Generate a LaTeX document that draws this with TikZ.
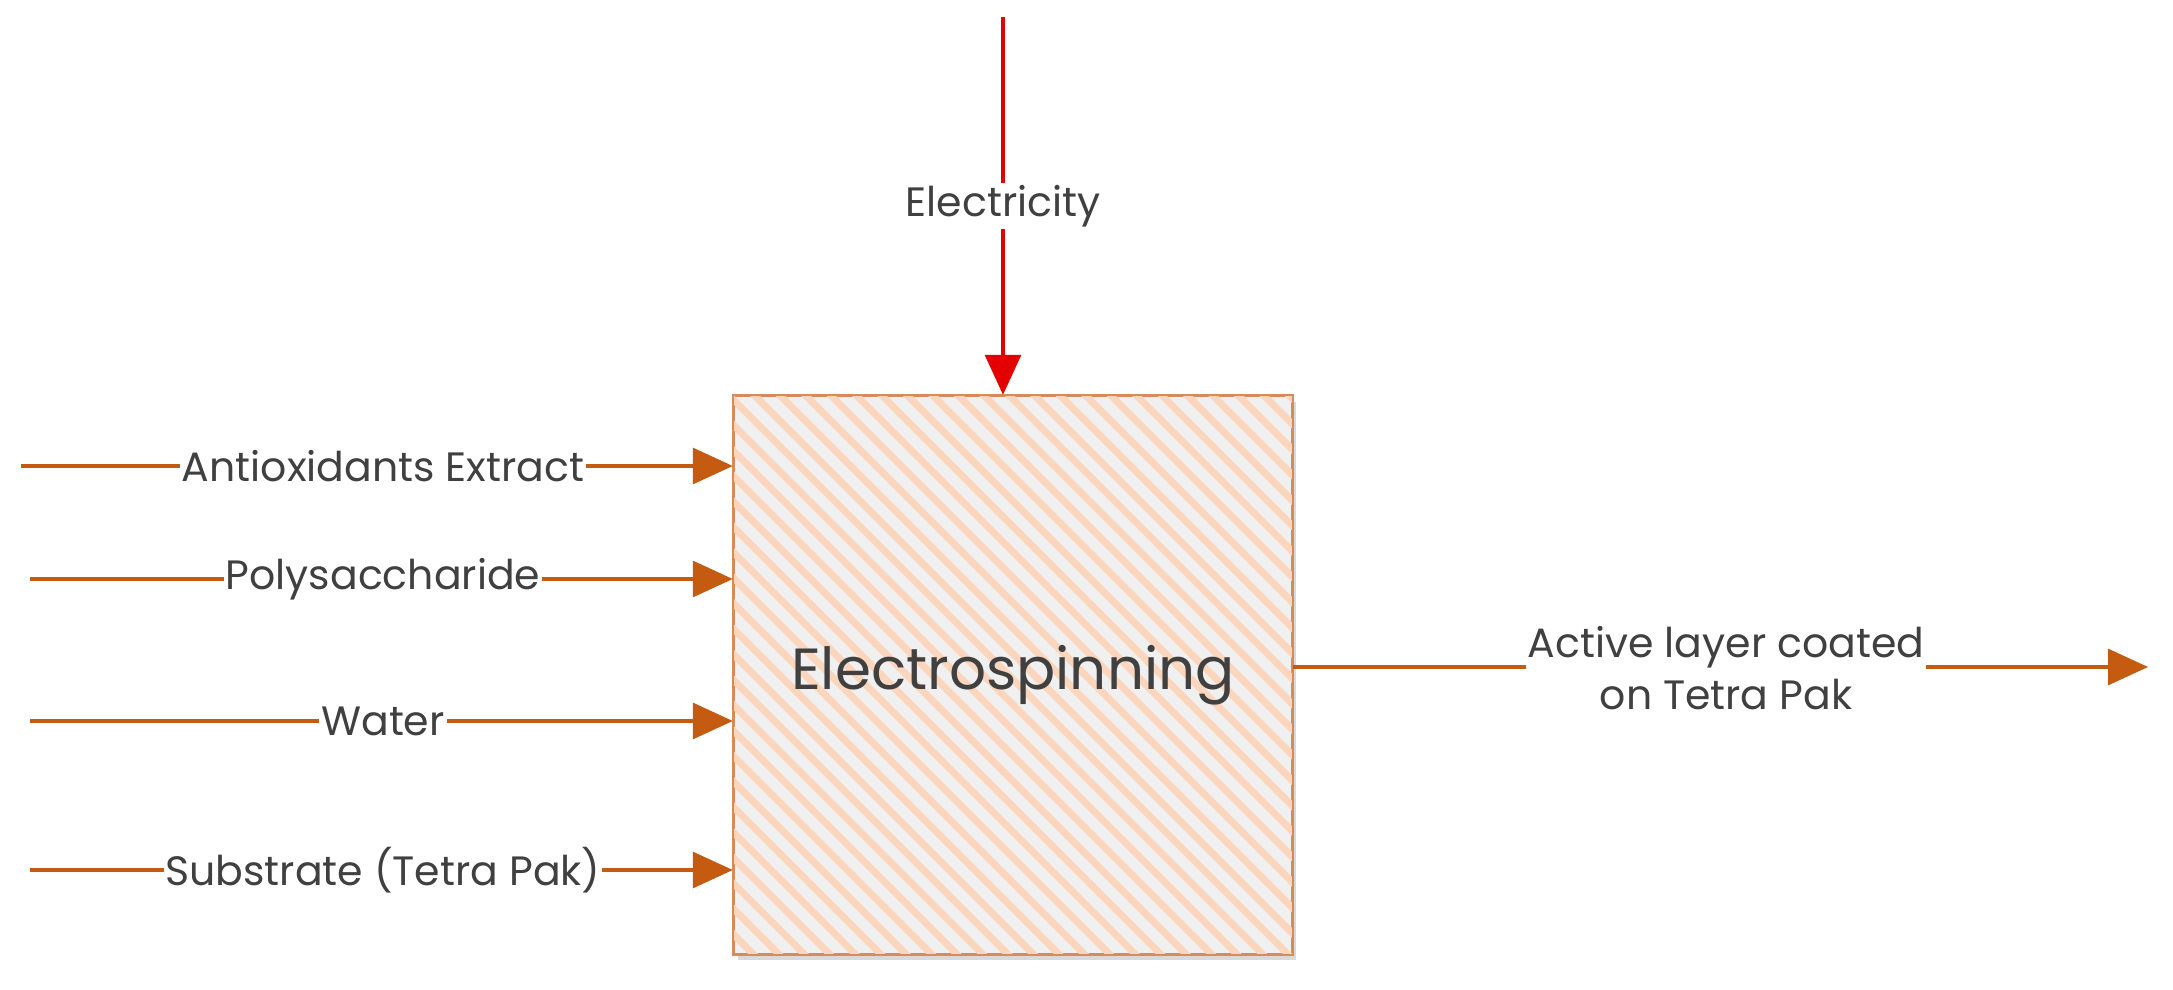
\documentclass[tikz,border=0pt]{standalone}
\usepackage{fontspec}
\setmainfont{Poppins}
\usetikzlibrary{arrows.meta,patterns.meta,shadows}
\definecolor{org}{HTML}{C55A11}
\definecolor{txt}{HTML}{404040}
\definecolor{peach}{HTML}{FBD5BC}
\begin{document}
\begin{tikzpicture}[x=0.5pt,y=-0.5pt,
  flow/.style={draw=org,line width=1.6pt,-{Triangle[length=20pt,width=18pt]}},
  lbl/.style={fill=white,text=txt,font=\fontsize{20.5}{26}\selectfont,inner sep=1pt}]
\useasboundingbox (0,0) rectangle (2173,990);
\node[draw=org!70,line width=1.2pt,fill=gray!12,minimum width=279pt,minimum height=279pt,
  drop shadow={shadow xshift=2pt,shadow yshift=-3pt,opacity=0.3}] (box) at (1013,675) {};
\fill[pattern={Lines[angle=-45,distance=9pt,line width=3.5pt]},pattern color=peach]
  (box.north west) rectangle (box.south east);
\node[font=\fontsize{29}{32}\selectfont,text=txt] at (box.center) {Electrospinning};
\draw[draw=org!70,line width=1.2pt] (box.north west) rectangle (box.south east);
\coordinate (e0) at (1003,17);
\draw[draw=red!90!black,line width=1.6pt,-{Triangle[length=20pt,width=18pt]}] (e0) -- (e0 |- box.north)
  node[pos=0.5,lbl] {Electricity};
\foreach \y/\x/\t [count=\i] in {466/21/Antioxidants Extract,579/30/Polysaccharide,721/30/Water,870/30/Substrate (Tetra Pak)}{
  \coordinate (s\i) at (\x,\y);
  \coordinate (t\i) at (box.west |- s\i);
  \draw[flow] (s\i) -- (t\i);
  \node[lbl] at (383,\y) {\t};
}
\coordinate (o) at (2148,667);
\draw[flow] (box.east |- o) -- (o);
\node[lbl,align=center] at (1726,668) {Active layer coated\\on Tetra Pak};
\end{tikzpicture}
\end{document}
